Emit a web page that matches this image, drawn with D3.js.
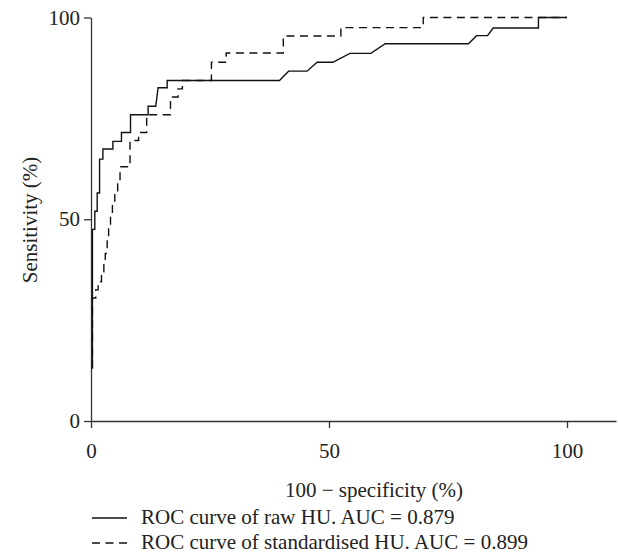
<!DOCTYPE html>
<html>
<head>
<meta charset="utf-8">
<script src="https://cdn.jsdelivr.net/npm/d3@7"></script>
<style>
  html, body { margin: 0; padding: 0; background: #fff; }
  svg { display: block; }
  text { font-family: "Liberation Serif", "Times New Roman", serif; fill: #222; }
</style>
</head>
<body>
<div id="chart"></div>
<script>
// ---- Data ----
const xTicks = [0, 50, 100];
const yTicks = [0, 50, 100];
const xLabel = "100 \u2212 specificity (%)";
const yLabel = "Sensitivity (%)";

// ROC of raw HU: [100 - specificity, sensitivity]
const rawHU = [
  [0.3,13],[0.3,47.5],[0.8,47.5],[0.8,52],[1.3,52],[1.3,56.5],[1.8,56.5],[1.8,64.9],
  [2.5,64.9],[2.5,67.4],[4.6,67.4],[4.6,69.3],[6.4,69.3],[6.4,71.5],[8.3,71.5],[8.3,75.9],
  [12.0,75.9],[12.0,78.0],[13.6,78.0],[14.1,82.6],[16.0,82.6],[16.0,84.4],[39.6,84.4],
  [41.5,86.7],[45.4,86.7],[47.5,88.9],[50.8,88.9],[54.4,91.1],[58.8,91.1],[61.8,93.5],
  [79.3,93.5],[81.0,95.5],[83.3,95.5],[84.5,97.4],[94.0,97.4],[94.0,100],[100,100]
];
// ROC of standardised HU
const stdHU = [
  [0.3,13],[0.3,30.5],[1.0,30.5],[1.0,32.5],[1.5,32.5],[1.5,34.5],[2.2,34.5],[2.2,37],
  [2.7,37],[2.7,39.5],[3.0,39.5],[3.0,41.5],[3.4,41.5],[3.4,45],[3.7,45],[3.7,48.5],
  [4.1,48.5],[4.1,51.5],[4.5,51.5],[4.5,54.5],[5.0,54.5],[5.0,57],[5.6,57],[5.6,59.5],
  [6.1,59.5],[6.1,63],[8.2,63],[8.2,69.5],[10.0,69.5],[10.0,71.5],[11.7,71.5],[11.7,75.9],
  [16.7,75.9],[16.7,80.3],[18.3,80.3],[18.3,82.3],[19.2,82.3],[19.2,84.4],[25.3,84.4],
  [25.3,88.9],[28.4,88.9],[28.4,91.2],[40.4,91.2],[40.4,95.4],[52.5,95.4],[52.5,97.5],
  [69.8,97.5],[69.8,100],[100,100]
];
const seriesNames = [
  "ROC curve of raw HU. AUC = 0.879",
  "ROC curve of standardised HU. AUC = 0.899"
];

// ---- Layout ----
const W = 618, H = 559;
const svg = d3.select("#chart").append("svg").attr("width", W).attr("height", H);

const x = d3.scaleLinear().domain([0, 100]).range([91, 567]);
const xAxisEnd = 616;
const y = d3.scaleLinear().domain([0, 100]).range([421, 17.5]);

const axisColor = "#333";
const fs = 21;
const dashPattern = "8,5.5";

// X axis
const xAxisScale = x.copy().domain([0, x.invert(xAxisEnd)]).range([91, xAxisEnd]);
const gx = svg.append("g").attr("transform", `translate(0,${y(0)})`)
  .call(d3.axisBottom(xAxisScale).tickValues(xTicks).tickSize(7).tickSizeOuter(0).tickPadding(15).tickFormat(d3.format("d")));
gx.select(".domain").attr("stroke", axisColor).attr("stroke-width", 1.3);
gx.selectAll(".tick line").attr("stroke", axisColor).attr("stroke-width", 1.3);
gx.selectAll(".tick text").attr("font-size", fs).attr("font-family", "Liberation Serif").attr("fill", "#222");

// Y axis
const gy = svg.append("g").attr("transform", `translate(${x(0)},0)`)
  .call(d3.axisLeft(y).tickValues(yTicks).tickSize(7).tickSizeOuter(0).tickPadding(4).tickFormat(d3.format("d")));
gy.select(".domain").attr("stroke", axisColor).attr("stroke-width", 1.3);
gy.selectAll(".tick line").attr("stroke", axisColor).attr("stroke-width", 1.3);
gy.selectAll(".tick text").attr("font-size", fs).attr("font-family", "Liberation Serif").attr("fill", "#222");

// Axis titles
svg.append("text").attr("x", 374).attr("y", 497).attr("text-anchor", "middle")
  .attr("font-size", fs).text(xLabel);
svg.append("text").attr("transform", `translate(37,220) rotate(-90)`).attr("text-anchor", "middle")
  .attr("font-size", fs).text(yLabel);

// Curves
const line = d3.line().x(d => x(d[0])).y(d => y(d[1]));
svg.append("path").datum(rawHU).attr("d", line)
  .attr("fill", "none").attr("stroke", "#111").attr("stroke-width", 1.4);
svg.append("path").datum(stdHU).attr("d", line)
  .attr("fill", "none").attr("stroke", "#111").attr("stroke-width", 1.4)
  .attr("stroke-dasharray", dashPattern);

// Legend
const dashes = [null, dashPattern];
const lg = svg.append("g");
seriesNames.forEach((name, i) => {
  const ly = 518 + i * 25;
  lg.append("line").attr("x1", 92).attr("x2", 127).attr("y1", ly).attr("y2", ly)
    .attr("stroke", "#111").attr("stroke-width", 1.3)
    .attr("stroke-dasharray", dashes[i]);
  lg.append("text").attr("x", 141).attr("y", ly + 6).attr("font-size", fs).text(name);
});
</script>
</body>
</html>
